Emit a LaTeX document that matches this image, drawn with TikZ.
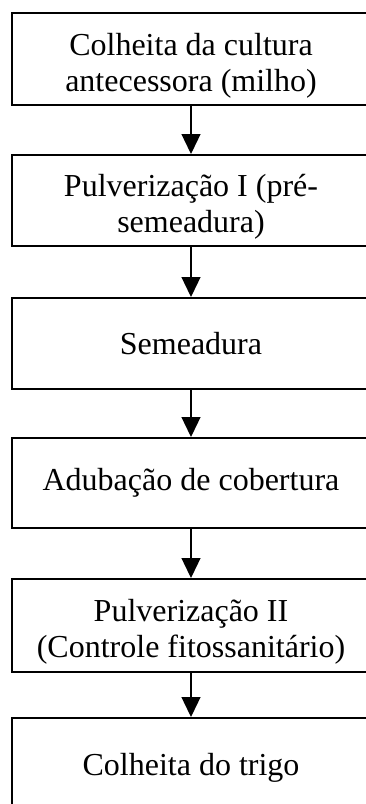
\documentclass[tikz,border=0pt]{standalone}
\usepackage{fontspec}
\setmainfont{Liberation Serif}
\usetikzlibrary{
    arrows.meta,
    positioning
}
\newcommand{\topo}{\rule{0pt}{35pt}}
\tikzset{
    etapa/.style={draw, line width=2pt, minimum width=358pt, minimum height=92pt,
        align=center, inner sep=0pt, font=\fontsize{32}{36}\selectfont},
    seta/.style={-{Triangle[length=20pt, width=19pt]}, line width=1.3pt}
}

\begin{document}
\begin{tikzpicture}[x=1pt, y=-1pt]
    \useasboundingbox (0, 0) rectangle (365, 804);
    \node[etapa] (colheitamilho) at (191, 59) {\topo Colheita da cultura\\antecessora (milho)};
    \node[etapa, minimum height=91pt] (pulvI) at (191, 200.5) {\topo Pulverização I (pré-\\semeadura)};
    \node[etapa, minimum height=91pt] (semeadura) at (191, 343.5) {Semeadura};
    \node[etapa, minimum height=90pt] (adubacao) at (191, 483) {Adubação de cobertura};
    \node[etapa, minimum height=93pt] (pulvII) at (191, 625.5) {\topo Pulverização II\\(Controle fitossanitário)};
    \node[etapa, minimum height=100pt] (colheitatrigo) at (191, 768) {Colheita do trigo};
    % setas entre as etapas
    \draw[seta] (colheitamilho) -- (pulvI);
    \draw[seta] (pulvI) -- (semeadura);
    \draw[seta] (semeadura) -- (adubacao);
    \draw[seta] (adubacao) -- (pulvII);
    \draw[seta] (pulvII) -- (colheitatrigo);
\end{tikzpicture}
\end{document}
